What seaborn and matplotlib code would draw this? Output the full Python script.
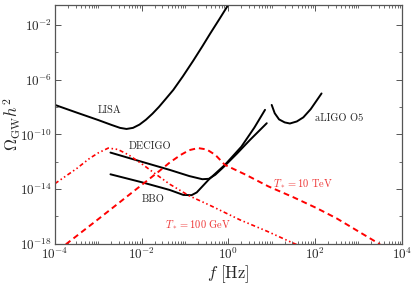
import numpy as np
import pandas as pd
import seaborn as sns
import matplotlib
matplotlib.use("Agg")
import matplotlib.pyplot as plt
from matplotlib.ticker import LogLocator, NullFormatter

# all curves as (log10 f, log10 Omega h^2)
lisa_logf = [-4.0, -3.5, -3.0, -2.7, -2.5, -2.35, -2.2, -2.05, -1.9, -1.75,
             -1.6, -1.45, -1.27, -1.05, -0.81, -0.6, -0.42, -0.2, 0.0]
lisa_logo = [-7.84, -8.4, -8.95, -9.3, -9.52, -9.6, -9.52, -9.28, -8.92, -8.48,
             -7.98, -7.42, -6.74, -5.75, -4.6, -3.55, -2.62, -1.52, -0.5]

decigo_logf = [-2.72, -2.0, -1.35, -0.9, -0.6, -0.45, -0.3, -0.115, 0.2, 0.5, 0.886]
decigo_logo = [-11.33, -12.0, -12.6, -13.05, -13.28, -13.25, -12.95, -12.4, -11.4, -10.4, -9.18]

bbo_logf = [-2.72, -2.0, -1.35, -1.04, -0.85, -0.73, -0.45, -0.08, 0.3, 0.6, 0.846]
bbo_logo = [-12.92, -13.5, -14.07, -14.43, -14.45, -14.25, -13.3, -12.23, -10.9, -9.5, -8.2]

aligo_logf = [1.0, 1.07, 1.17, 1.3, 1.42, 1.58, 1.73, 1.9, 2.15]
aligo_logo = [-7.84, -8.45, -8.9, -9.12, -9.2, -9.05, -8.75, -8.15, -7.0]

tev_logf = [-3.75, -3.0, -2.5, -2.0, -1.6, -1.35, -1.1, -0.9, -0.7, -0.5, -0.3,
            -0.08, 0.4, 0.92, 1.5, 2.04, 2.5, 3.0, 3.5]
tev_logo = [-18.05, -16.2, -14.95, -13.7, -12.7, -12.05, -11.5, -11.15, -11.0, -11.1, -11.5,
            -12.23, -12.95, -13.8, -14.6, -15.4, -16.15, -17.1, -18.05]

gev_logf = [-4.0, -3.5, -3.2, -3.0, -2.77, -2.55, -2.3, -2.0, -1.7, -1.35, -0.9,
            -0.42, 0.27, 0.9, 1.42, 1.6]
gev_logo = [-13.6, -12.5, -11.75, -11.35, -11.0, -11.1, -11.5, -12.15, -12.85, -13.65, -14.5,
            -15.2, -16.26, -17.1, -17.85, -18.1]

sns.set_style("ticks")
plt.rcParams['font.family'] = 'serif'
plt.rcParams['font.serif'] = ['cmr10', 'DejaVu Serif']
plt.rcParams['mathtext.fontset'] = 'cm'
plt.rcParams['axes.formatter.use_mathtext'] = True
plt.rcParams['axes.unicode_minus'] = False

fig = plt.figure(figsize=(4.15, 2.84), dpi=100)
ax = fig.add_axes([0.1325, 0.142, 0.8355, 0.8415])

black = dict(color='black', linewidth=1.4)
for lf, lo in [(lisa_logf, lisa_logo), (decigo_logf, decigo_logo),
               (bbo_logf, bbo_logo), (aligo_logf, aligo_logo)]:
    df = pd.DataFrame({'f': 10.0 ** np.array(lf), 'omega': 10.0 ** np.array(lo)})
    sns.lineplot(data=df, x='f', y='omega', ax=ax, sort=False, estimator=None, **black)

df_tev = pd.DataFrame({'f': 10.0 ** np.array(tev_logf), 'omega': 10.0 ** np.array(tev_logo)})
sns.lineplot(data=df_tev, x='f', y='omega', ax=ax, sort=False, estimator=None,
             color='red', linewidth=1.4, linestyle=(0, (3, 2)))
df_gev = pd.DataFrame({'f': 10.0 ** np.array(gev_logf), 'omega': 10.0 ** np.array(gev_logo)})
sns.lineplot(data=df_gev, x='f', y='omega', ax=ax, sort=False, estimator=None,
             color='red', linewidth=1.2, linestyle=(0, (2.5, 1.6, 0.9, 1.6, 0.9, 1.6)))

ax.set_xscale('log')
ax.set_yscale('log')
ax.set_xlim(1e-4, 1e4)
ax.set_ylim(1e-18, 10 ** -0.5)

ax.set_xticks([1e-4, 1e-2, 1e0, 1e2, 1e4])
ax.xaxis.set_minor_locator(LogLocator(base=10, subs=np.arange(1, 10), numticks=100))
ax.xaxis.set_minor_formatter(NullFormatter())
ax.set_yticks([1e-18, 1e-14, 1e-10, 1e-6, 1e-2])
ax.yaxis.set_minor_locator(LogLocator(base=100, subs=[1.0], numticks=100))
ax.yaxis.set_minor_formatter(NullFormatter())

ax.tick_params(which='both', direction='in', top=True, right=True, color='#555555')
ax.tick_params(which='major', length=4, width=0.7, labelsize=9.5, pad=2)
ax.tick_params(which='minor', length=2, width=0.6)
for s in ax.spines.values():
    s.set_color('#555555')
    s.set_linewidth(0.9)

ax.set_xlabel(r'$f\ \mathrm{[Hz]}$', fontsize=12, labelpad=1)
ax.set_ylabel(r'$\Omega_{\rm GW}h^2$', fontsize=12)
ax.yaxis.set_label_coords(-0.092, 0.5)

tsize = 7.5
ax.text(10 ** -2.73, 10 ** -8.26, 'LISA', fontsize=tsize, ha='center', va='center')
ax.text(10 ** -1.81, 10 ** -10.9, 'DECIGO', fontsize=tsize, ha='center', va='center')
ax.text(10 ** -1.74, 10 ** -14.75, 'BBO', fontsize=tsize, ha='center', va='center')
ax.text(10 ** 2.0, 10 ** -8.81, 'aLIGO O5', fontsize=tsize, ha='left', va='center')
ax.text(10 ** 1.02, 10 ** -13.57, r'$T_* = 10\ \mathrm{TeV}$', fontsize=tsize,
        color='#ee3333', ha='left', va='center')
ax.text(10 ** -1.46, 10 ** -16.63, r'$T_* = 100\ \mathrm{GeV}$', fontsize=tsize,
        color='#ee3333', ha='left', va='center')

fig.savefig('out.png', dpi=100)
